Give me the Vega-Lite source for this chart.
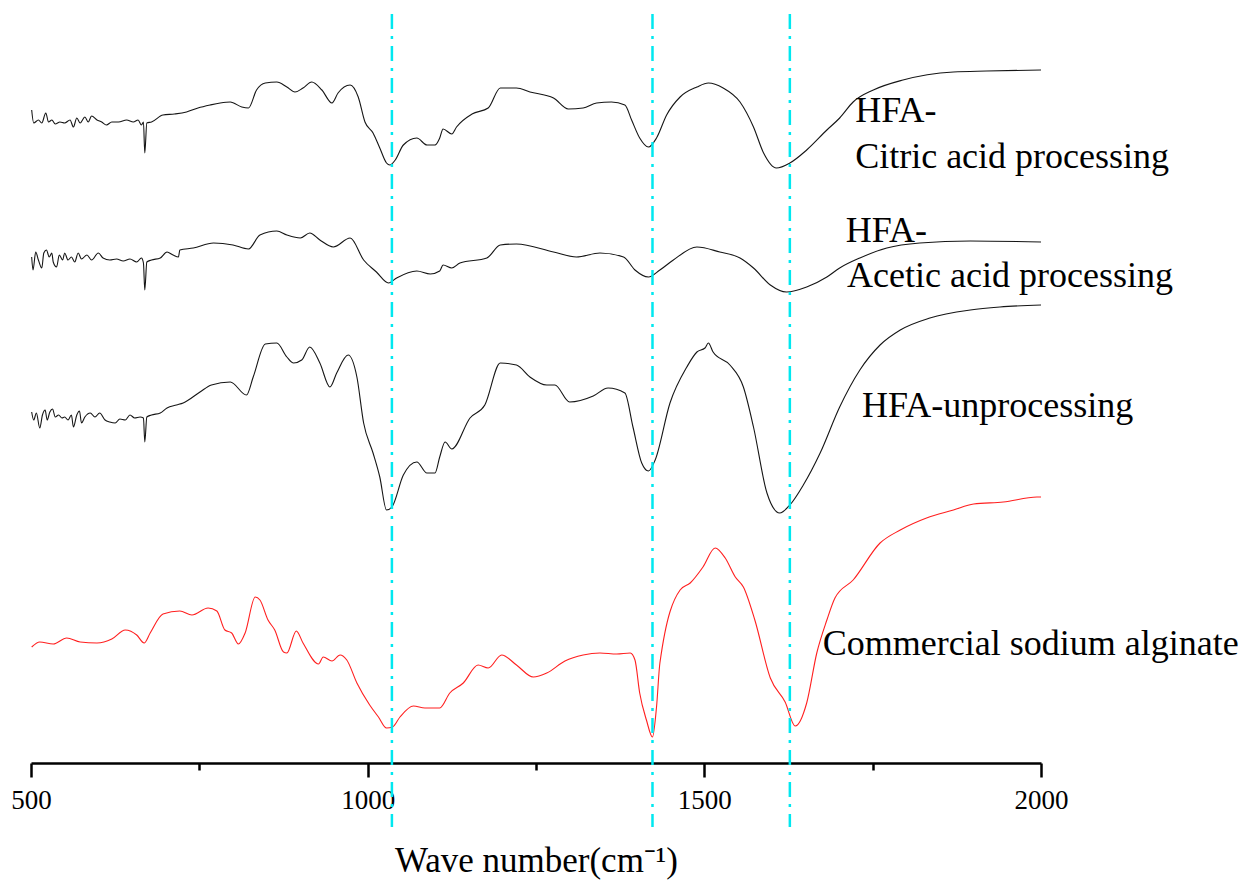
{
  "$schema": "https://vega.github.io/schema/vega-lite/v6.json",
  "width": 1010,
  "height": 763,
  "autosize": {"type": "none"},
  "padding": {"left": 31, "top": 0, "right": 219, "bottom": 124},
  "background": "white",
  "config": {"view": {"stroke": null}},
  "datasets": {
    "spectra": [
      {"sample": "HFA-Citric acid processing", "wn": 501, "t": 653}, {"sample": "HFA-Citric acid processing", "wn": 504, "t": 640}, {"sample": "HFA-Citric acid processing", "wn": 511, "t": 643}, {"sample": "HFA-Citric acid processing", "wn": 516, "t": 640}, {"sample": "HFA-Citric acid processing", "wn": 522, "t": 650}, {"sample": "HFA-Citric acid processing", "wn": 526, "t": 641}, {"sample": "HFA-Citric acid processing", "wn": 531, "t": 643}, {"sample": "HFA-Citric acid processing", "wn": 536, "t": 639}, {"sample": "HFA-Citric acid processing", "wn": 543, "t": 641}, {"sample": "HFA-Citric acid processing", "wn": 550, "t": 640}, {"sample": "HFA-Citric acid processing", "wn": 558, "t": 643}, {"sample": "HFA-Citric acid processing", "wn": 563, "t": 636}, {"sample": "HFA-Citric acid processing", "wn": 568, "t": 645}, {"sample": "HFA-Citric acid processing", "wn": 573, "t": 640}, {"sample": "HFA-Citric acid processing", "wn": 580, "t": 646}, {"sample": "HFA-Citric acid processing", "wn": 585, "t": 641}, {"sample": "HFA-Citric acid processing", "wn": 590, "t": 647}, {"sample": "HFA-Citric acid processing", "wn": 598, "t": 643}, {"sample": "HFA-Citric acid processing", "wn": 605, "t": 641}, {"sample": "HFA-Citric acid processing", "wn": 612, "t": 638}, {"sample": "HFA-Citric acid processing", "wn": 620, "t": 641}, {"sample": "HFA-Citric acid processing", "wn": 630, "t": 641}, {"sample": "HFA-Citric acid processing", "wn": 642, "t": 643}, {"sample": "HFA-Citric acid processing", "wn": 652, "t": 641}, {"sample": "HFA-Citric acid processing", "wn": 659, "t": 643}, {"sample": "HFA-Citric acid processing", "wn": 664, "t": 638}, {"sample": "HFA-Citric acid processing", "wn": 667, "t": 641}, {"sample": "HFA-Citric acid processing", "wn": 669, "t": 610}, {"sample": "HFA-Citric acid processing", "wn": 672, "t": 640}, {"sample": "HFA-Citric acid processing", "wn": 679, "t": 641}, {"sample": "HFA-Citric acid processing", "wn": 696, "t": 648}, {"sample": "HFA-Citric acid processing", "wn": 713, "t": 649}, {"sample": "HFA-Citric acid processing", "wn": 731, "t": 651}, {"sample": "HFA-Citric acid processing", "wn": 748, "t": 655}, {"sample": "HFA-Citric acid processing", "wn": 766, "t": 658}, {"sample": "HFA-Citric acid processing", "wn": 781, "t": 660}, {"sample": "HFA-Citric acid processing", "wn": 796, "t": 661}, {"sample": "HFA-Citric acid processing", "wn": 813, "t": 656}, {"sample": "HFA-Citric acid processing", "wn": 823, "t": 655}, {"sample": "HFA-Citric acid processing", "wn": 835, "t": 673}, {"sample": "HFA-Citric acid processing", "wn": 848, "t": 680}, {"sample": "HFA-Citric acid processing", "wn": 865, "t": 681}, {"sample": "HFA-Citric acid processing", "wn": 880, "t": 676}, {"sample": "HFA-Citric acid processing", "wn": 892, "t": 671}, {"sample": "HFA-Citric acid processing", "wn": 904, "t": 675}, {"sample": "HFA-Citric acid processing", "wn": 917, "t": 681}, {"sample": "HFA-Citric acid processing", "wn": 932, "t": 673}, {"sample": "HFA-Citric acid processing", "wn": 947, "t": 660}, {"sample": "HFA-Citric acid processing", "wn": 956, "t": 670}, {"sample": "HFA-Citric acid processing", "wn": 974, "t": 678}, {"sample": "HFA-Citric acid processing", "wn": 986, "t": 666}, {"sample": "HFA-Citric acid processing", "wn": 996, "t": 641}, {"sample": "HFA-Citric acid processing", "wn": 1008, "t": 630}, {"sample": "HFA-Citric acid processing", "wn": 1018, "t": 615}, {"sample": "HFA-Citric acid processing", "wn": 1028, "t": 600}, {"sample": "HFA-Citric acid processing", "wn": 1033, "t": 598}, {"sample": "HFA-Citric acid processing", "wn": 1041, "t": 603}, {"sample": "HFA-Citric acid processing", "wn": 1053, "t": 618}, {"sample": "HFA-Citric acid processing", "wn": 1073, "t": 625}, {"sample": "HFA-Citric acid processing", "wn": 1088, "t": 618}, {"sample": "HFA-Citric acid processing", "wn": 1100, "t": 618}, {"sample": "HFA-Citric acid processing", "wn": 1107, "t": 625}, {"sample": "HFA-Citric acid processing", "wn": 1112, "t": 634}, {"sample": "HFA-Citric acid processing", "wn": 1125, "t": 629}, {"sample": "HFA-Citric acid processing", "wn": 1132, "t": 636}, {"sample": "HFA-Citric acid processing", "wn": 1155, "t": 649}, {"sample": "HFA-Citric acid processing", "wn": 1179, "t": 655}, {"sample": "HFA-Citric acid processing", "wn": 1197, "t": 675}, {"sample": "HFA-Citric acid processing", "wn": 1221, "t": 675}, {"sample": "HFA-Citric acid processing", "wn": 1241, "t": 671}, {"sample": "HFA-Citric acid processing", "wn": 1276, "t": 665}, {"sample": "HFA-Citric acid processing", "wn": 1298, "t": 654}, {"sample": "HFA-Citric acid processing", "wn": 1320, "t": 655}, {"sample": "HFA-Citric acid processing", "wn": 1340, "t": 660}, {"sample": "HFA-Citric acid processing", "wn": 1362, "t": 661}, {"sample": "HFA-Citric acid processing", "wn": 1382, "t": 658}, {"sample": "HFA-Citric acid processing", "wn": 1392, "t": 643}, {"sample": "HFA-Citric acid processing", "wn": 1404, "t": 625}, {"sample": "HFA-Citric acid processing", "wn": 1417, "t": 616}, {"sample": "HFA-Citric acid processing", "wn": 1429, "t": 625}, {"sample": "HFA-Citric acid processing", "wn": 1444, "t": 648}, {"sample": "HFA-Citric acid processing", "wn": 1464, "t": 666}, {"sample": "HFA-Citric acid processing", "wn": 1489, "t": 676}, {"sample": "HFA-Citric acid processing", "wn": 1506, "t": 680}, {"sample": "HFA-Citric acid processing", "wn": 1528, "t": 675}, {"sample": "HFA-Citric acid processing", "wn": 1553, "t": 661}, {"sample": "HFA-Citric acid processing", "wn": 1573, "t": 636}, {"sample": "HFA-Citric acid processing", "wn": 1588, "t": 610}, {"sample": "HFA-Citric acid processing", "wn": 1607, "t": 595}, {"sample": "HFA-Citric acid processing", "wn": 1627, "t": 600}, {"sample": "HFA-Citric acid processing", "wn": 1652, "t": 613}, {"sample": "HFA-Citric acid processing", "wn": 1682, "t": 633}, {"sample": "HFA-Citric acid processing", "wn": 1701, "t": 645}, {"sample": "HFA-Citric acid processing", "wn": 1721, "t": 661}, {"sample": "HFA-Citric acid processing", "wn": 1751, "t": 673}, {"sample": "HFA-Citric acid processing", "wn": 1795, "t": 683}, {"sample": "HFA-Citric acid processing", "wn": 1870, "t": 691}, {"sample": "HFA-Citric acid processing", "wn": 1919, "t": 692}, {"sample": "HFA-Citric acid processing", "wn": 2000, "t": 693},

      {"sample": "HFA-Acetic acid processing", "wn": 501, "t": 506}, {"sample": "HFA-Acetic acid processing", "wn": 503, "t": 493}, {"sample": "HFA-Acetic acid processing", "wn": 507, "t": 511}, {"sample": "HFA-Acetic acid processing", "wn": 511, "t": 503}, {"sample": "HFA-Acetic acid processing", "wn": 516, "t": 495}, {"sample": "HFA-Acetic acid processing", "wn": 519, "t": 510}, {"sample": "HFA-Acetic acid processing", "wn": 523, "t": 513}, {"sample": "HFA-Acetic acid processing", "wn": 527, "t": 506}, {"sample": "HFA-Acetic acid processing", "wn": 531, "t": 510}, {"sample": "HFA-Acetic acid processing", "wn": 533, "t": 501}, {"sample": "HFA-Acetic acid processing", "wn": 538, "t": 496}, {"sample": "HFA-Acetic acid processing", "wn": 542, "t": 508}, {"sample": "HFA-Acetic acid processing", "wn": 547, "t": 503}, {"sample": "HFA-Acetic acid processing", "wn": 550, "t": 510}, {"sample": "HFA-Acetic acid processing", "wn": 555, "t": 503}, {"sample": "HFA-Acetic acid processing", "wn": 560, "t": 506}, {"sample": "HFA-Acetic acid processing", "wn": 565, "t": 501}, {"sample": "HFA-Acetic acid processing", "wn": 570, "t": 510}, {"sample": "HFA-Acetic acid processing", "wn": 575, "t": 504}, {"sample": "HFA-Acetic acid processing", "wn": 583, "t": 508}, {"sample": "HFA-Acetic acid processing", "wn": 590, "t": 503}, {"sample": "HFA-Acetic acid processing", "wn": 600, "t": 510}, {"sample": "HFA-Acetic acid processing", "wn": 607, "t": 505}, {"sample": "HFA-Acetic acid processing", "wn": 617, "t": 503}, {"sample": "HFA-Acetic acid processing", "wn": 627, "t": 504}, {"sample": "HFA-Acetic acid processing", "wn": 637, "t": 502}, {"sample": "HFA-Acetic acid processing", "wn": 647, "t": 504}, {"sample": "HFA-Acetic acid processing", "wn": 657, "t": 501}, {"sample": "HFA-Acetic acid processing", "wn": 664, "t": 505}, {"sample": "HFA-Acetic acid processing", "wn": 667, "t": 500}, {"sample": "HFA-Acetic acid processing", "wn": 669, "t": 473}, {"sample": "HFA-Acetic acid processing", "wn": 672, "t": 501}, {"sample": "HFA-Acetic acid processing", "wn": 679, "t": 503}, {"sample": "HFA-Acetic acid processing", "wn": 692, "t": 505}, {"sample": "HFA-Acetic acid processing", "wn": 702, "t": 511}, {"sample": "HFA-Acetic acid processing", "wn": 711, "t": 508}, {"sample": "HFA-Acetic acid processing", "wn": 719, "t": 506}, {"sample": "HFA-Acetic acid processing", "wn": 721, "t": 513}, {"sample": "HFA-Acetic acid processing", "wn": 741, "t": 515}, {"sample": "HFA-Acetic acid processing", "wn": 771, "t": 520}, {"sample": "HFA-Acetic acid processing", "wn": 800, "t": 518}, {"sample": "HFA-Acetic acid processing", "wn": 823, "t": 514}, {"sample": "HFA-Acetic acid processing", "wn": 840, "t": 528}, {"sample": "HFA-Acetic acid processing", "wn": 865, "t": 532}, {"sample": "HFA-Acetic acid processing", "wn": 880, "t": 528}, {"sample": "HFA-Acetic acid processing", "wn": 900, "t": 525}, {"sample": "HFA-Acetic acid processing", "wn": 914, "t": 530}, {"sample": "HFA-Acetic acid processing", "wn": 929, "t": 523}, {"sample": "HFA-Acetic acid processing", "wn": 949, "t": 516}, {"sample": "HFA-Acetic acid processing", "wn": 974, "t": 525}, {"sample": "HFA-Acetic acid processing", "wn": 994, "t": 503}, {"sample": "HFA-Acetic acid processing", "wn": 1013, "t": 491}, {"sample": "HFA-Acetic acid processing", "wn": 1031, "t": 480}, {"sample": "HFA-Acetic acid processing", "wn": 1043, "t": 485}, {"sample": "HFA-Acetic acid processing", "wn": 1073, "t": 492}, {"sample": "HFA-Acetic acid processing", "wn": 1093, "t": 489}, {"sample": "HFA-Acetic acid processing", "wn": 1107, "t": 492}, {"sample": "HFA-Acetic acid processing", "wn": 1112, "t": 498}, {"sample": "HFA-Acetic acid processing", "wn": 1125, "t": 495}, {"sample": "HFA-Acetic acid processing", "wn": 1137, "t": 500}, {"sample": "HFA-Acetic acid processing", "wn": 1177, "t": 505}, {"sample": "HFA-Acetic acid processing", "wn": 1197, "t": 518}, {"sample": "HFA-Acetic acid processing", "wn": 1221, "t": 519}, {"sample": "HFA-Acetic acid processing", "wn": 1276, "t": 511}, {"sample": "HFA-Acetic acid processing", "wn": 1310, "t": 506}, {"sample": "HFA-Acetic acid processing", "wn": 1345, "t": 510}, {"sample": "HFA-Acetic acid processing", "wn": 1380, "t": 506}, {"sample": "HFA-Acetic acid processing", "wn": 1397, "t": 493}, {"sample": "HFA-Acetic acid processing", "wn": 1417, "t": 486}, {"sample": "HFA-Acetic acid processing", "wn": 1434, "t": 493}, {"sample": "HFA-Acetic acid processing", "wn": 1454, "t": 503}, {"sample": "HFA-Acetic acid processing", "wn": 1489, "t": 516}, {"sample": "HFA-Acetic acid processing", "wn": 1523, "t": 511}, {"sample": "HFA-Acetic acid processing", "wn": 1553, "t": 505}, {"sample": "HFA-Acetic acid processing", "wn": 1573, "t": 495}, {"sample": "HFA-Acetic acid processing", "wn": 1598, "t": 478}, {"sample": "HFA-Acetic acid processing", "wn": 1622, "t": 471}, {"sample": "HFA-Acetic acid processing", "wn": 1652, "t": 476}, {"sample": "HFA-Acetic acid processing", "wn": 1682, "t": 486}, {"sample": "HFA-Acetic acid processing", "wn": 1701, "t": 495}, {"sample": "HFA-Acetic acid processing", "wn": 1731, "t": 505}, {"sample": "HFA-Acetic acid processing", "wn": 1771, "t": 515}, {"sample": "HFA-Acetic acid processing", "wn": 1820, "t": 520}, {"sample": "HFA-Acetic acid processing", "wn": 1895, "t": 522}, {"sample": "HFA-Acetic acid processing", "wn": 2000, "t": 521},

      {"sample": "HFA-unprocessing", "wn": 501, "t": 351}, {"sample": "HFA-unprocessing", "wn": 504, "t": 343}, {"sample": "HFA-unprocessing", "wn": 508, "t": 350}, {"sample": "HFA-unprocessing", "wn": 513, "t": 335}, {"sample": "HFA-unprocessing", "wn": 517, "t": 348}, {"sample": "HFA-unprocessing", "wn": 521, "t": 353}, {"sample": "HFA-unprocessing", "wn": 524, "t": 343}, {"sample": "HFA-unprocessing", "wn": 528, "t": 351}, {"sample": "HFA-unprocessing", "wn": 532, "t": 354}, {"sample": "HFA-unprocessing", "wn": 536, "t": 346}, {"sample": "HFA-unprocessing", "wn": 541, "t": 348}, {"sample": "HFA-unprocessing", "wn": 546, "t": 345}, {"sample": "HFA-unprocessing", "wn": 550, "t": 346}, {"sample": "HFA-unprocessing", "wn": 555, "t": 343}, {"sample": "HFA-unprocessing", "wn": 560, "t": 348}, {"sample": "HFA-unprocessing", "wn": 563, "t": 336}, {"sample": "HFA-unprocessing", "wn": 568, "t": 348}, {"sample": "HFA-unprocessing", "wn": 572, "t": 352}, {"sample": "HFA-unprocessing", "wn": 575, "t": 340}, {"sample": "HFA-unprocessing", "wn": 580, "t": 346}, {"sample": "HFA-unprocessing", "wn": 588, "t": 350}, {"sample": "HFA-unprocessing", "wn": 595, "t": 346}, {"sample": "HFA-unprocessing", "wn": 602, "t": 350}, {"sample": "HFA-unprocessing", "wn": 610, "t": 343}, {"sample": "HFA-unprocessing", "wn": 617, "t": 341}, {"sample": "HFA-unprocessing", "wn": 625, "t": 340}, {"sample": "HFA-unprocessing", "wn": 632, "t": 344}, {"sample": "HFA-unprocessing", "wn": 640, "t": 343}, {"sample": "HFA-unprocessing", "wn": 647, "t": 348}, {"sample": "HFA-unprocessing", "wn": 654, "t": 345}, {"sample": "HFA-unprocessing", "wn": 662, "t": 346}, {"sample": "HFA-unprocessing", "wn": 667, "t": 345}, {"sample": "HFA-unprocessing", "wn": 669, "t": 321}, {"sample": "HFA-unprocessing", "wn": 672, "t": 346}, {"sample": "HFA-unprocessing", "wn": 679, "t": 348}, {"sample": "HFA-unprocessing", "wn": 692, "t": 350}, {"sample": "HFA-unprocessing", "wn": 702, "t": 355}, {"sample": "HFA-unprocessing", "wn": 716, "t": 358}, {"sample": "HFA-unprocessing", "wn": 726, "t": 360}, {"sample": "HFA-unprocessing", "wn": 751, "t": 371}, {"sample": "HFA-unprocessing", "wn": 768, "t": 378}, {"sample": "HFA-unprocessing", "wn": 796, "t": 381}, {"sample": "HFA-unprocessing", "wn": 820, "t": 368}, {"sample": "HFA-unprocessing", "wn": 830, "t": 386}, {"sample": "HFA-unprocessing", "wn": 848, "t": 419}, {"sample": "HFA-unprocessing", "wn": 865, "t": 420}, {"sample": "HFA-unprocessing", "wn": 880, "t": 406}, {"sample": "HFA-unprocessing", "wn": 890, "t": 400}, {"sample": "HFA-unprocessing", "wn": 902, "t": 403}, {"sample": "HFA-unprocessing", "wn": 914, "t": 416}, {"sample": "HFA-unprocessing", "wn": 929, "t": 400}, {"sample": "HFA-unprocessing", "wn": 944, "t": 376}, {"sample": "HFA-unprocessing", "wn": 954, "t": 390}, {"sample": "HFA-unprocessing", "wn": 971, "t": 408}, {"sample": "HFA-unprocessing", "wn": 984, "t": 386}, {"sample": "HFA-unprocessing", "wn": 994, "t": 340}, {"sample": "HFA-unprocessing", "wn": 1008, "t": 310}, {"sample": "HFA-unprocessing", "wn": 1018, "t": 286}, {"sample": "HFA-unprocessing", "wn": 1028, "t": 253}, {"sample": "HFA-unprocessing", "wn": 1036, "t": 256}, {"sample": "HFA-unprocessing", "wn": 1053, "t": 288}, {"sample": "HFA-unprocessing", "wn": 1073, "t": 301}, {"sample": "HFA-unprocessing", "wn": 1088, "t": 290}, {"sample": "HFA-unprocessing", "wn": 1100, "t": 290}, {"sample": "HFA-unprocessing", "wn": 1107, "t": 306}, {"sample": "HFA-unprocessing", "wn": 1115, "t": 321}, {"sample": "HFA-unprocessing", "wn": 1125, "t": 314}, {"sample": "HFA-unprocessing", "wn": 1152, "t": 345}, {"sample": "HFA-unprocessing", "wn": 1174, "t": 358}, {"sample": "HFA-unprocessing", "wn": 1197, "t": 400}, {"sample": "HFA-unprocessing", "wn": 1221, "t": 398}, {"sample": "HFA-unprocessing", "wn": 1241, "t": 386}, {"sample": "HFA-unprocessing", "wn": 1266, "t": 378}, {"sample": "HFA-unprocessing", "wn": 1278, "t": 378}, {"sample": "HFA-unprocessing", "wn": 1300, "t": 361}, {"sample": "HFA-unprocessing", "wn": 1335, "t": 367}, {"sample": "HFA-unprocessing", "wn": 1357, "t": 375}, {"sample": "HFA-unprocessing", "wn": 1382, "t": 370}, {"sample": "HFA-unprocessing", "wn": 1394, "t": 336}, {"sample": "HFA-unprocessing", "wn": 1407, "t": 300}, {"sample": "HFA-unprocessing", "wn": 1417, "t": 292}, {"sample": "HFA-unprocessing", "wn": 1427, "t": 303}, {"sample": "HFA-unprocessing", "wn": 1449, "t": 360}, {"sample": "HFA-unprocessing", "wn": 1474, "t": 396}, {"sample": "HFA-unprocessing", "wn": 1489, "t": 411}, {"sample": "HFA-unprocessing", "wn": 1501, "t": 415}, {"sample": "HFA-unprocessing", "wn": 1506, "t": 420}, {"sample": "HFA-unprocessing", "wn": 1513, "t": 411}, {"sample": "HFA-unprocessing", "wn": 1538, "t": 398}, {"sample": "HFA-unprocessing", "wn": 1558, "t": 376}, {"sample": "HFA-unprocessing", "wn": 1573, "t": 336}, {"sample": "HFA-unprocessing", "wn": 1593, "t": 270}, {"sample": "HFA-unprocessing", "wn": 1612, "t": 250}, {"sample": "HFA-unprocessing", "wn": 1627, "t": 258}, {"sample": "HFA-unprocessing", "wn": 1647, "t": 278}, {"sample": "HFA-unprocessing", "wn": 1672, "t": 310}, {"sample": "HFA-unprocessing", "wn": 1701, "t": 356}, {"sample": "HFA-unprocessing", "wn": 1731, "t": 393}, {"sample": "HFA-unprocessing", "wn": 1761, "t": 418}, {"sample": "HFA-unprocessing", "wn": 1791, "t": 433}, {"sample": "HFA-unprocessing", "wn": 1835, "t": 445}, {"sample": "HFA-unprocessing", "wn": 1895, "t": 453}, {"sample": "HFA-unprocessing", "wn": 1939, "t": 456}, {"sample": "HFA-unprocessing", "wn": 2000, "t": 458},

      {"sample": "Commercial sodium alginate", "wn": 501, "t": 116}, {"sample": "Commercial sodium alginate", "wn": 513, "t": 121}, {"sample": "Commercial sodium alginate", "wn": 533, "t": 119}, {"sample": "Commercial sodium alginate", "wn": 553, "t": 125}, {"sample": "Commercial sodium alginate", "wn": 573, "t": 121}, {"sample": "Commercial sodium alginate", "wn": 598, "t": 120}, {"sample": "Commercial sodium alginate", "wn": 620, "t": 124}, {"sample": "Commercial sodium alginate", "wn": 640, "t": 133}, {"sample": "Commercial sodium alginate", "wn": 657, "t": 128}, {"sample": "Commercial sodium alginate", "wn": 668, "t": 120}, {"sample": "Commercial sodium alginate", "wn": 677, "t": 130}, {"sample": "Commercial sodium alginate", "wn": 696, "t": 149}, {"sample": "Commercial sodium alginate", "wn": 721, "t": 152}, {"sample": "Commercial sodium alginate", "wn": 739, "t": 148}, {"sample": "Commercial sodium alginate", "wn": 763, "t": 155}, {"sample": "Commercial sodium alginate", "wn": 776, "t": 152}, {"sample": "Commercial sodium alginate", "wn": 788, "t": 133}, {"sample": "Commercial sodium alginate", "wn": 798, "t": 130}, {"sample": "Commercial sodium alginate", "wn": 808, "t": 119}, {"sample": "Commercial sodium alginate", "wn": 818, "t": 130}, {"sample": "Commercial sodium alginate", "wn": 833, "t": 166}, {"sample": "Commercial sodium alginate", "wn": 840, "t": 163}, {"sample": "Commercial sodium alginate", "wn": 852, "t": 143}, {"sample": "Commercial sodium alginate", "wn": 862, "t": 133}, {"sample": "Commercial sodium alginate", "wn": 875, "t": 111}, {"sample": "Commercial sodium alginate", "wn": 880, "t": 110}, {"sample": "Commercial sodium alginate", "wn": 894, "t": 132}, {"sample": "Commercial sodium alginate", "wn": 904, "t": 120}, {"sample": "Commercial sodium alginate", "wn": 927, "t": 99}, {"sample": "Commercial sodium alginate", "wn": 934, "t": 106}, {"sample": "Commercial sodium alginate", "wn": 947, "t": 102}, {"sample": "Commercial sodium alginate", "wn": 959, "t": 108}, {"sample": "Commercial sodium alginate", "wn": 969, "t": 103}, {"sample": "Commercial sodium alginate", "wn": 984, "t": 80}, {"sample": "Commercial sodium alginate", "wn": 1003, "t": 58}, {"sample": "Commercial sodium alginate", "wn": 1016, "t": 46}, {"sample": "Commercial sodium alginate", "wn": 1028, "t": 35}, {"sample": "Commercial sodium alginate", "wn": 1037, "t": 36}, {"sample": "Commercial sodium alginate", "wn": 1048, "t": 46}, {"sample": "Commercial sodium alginate", "wn": 1068, "t": 57}, {"sample": "Commercial sodium alginate", "wn": 1085, "t": 55}, {"sample": "Commercial sodium alginate", "wn": 1107, "t": 55}, {"sample": "Commercial sodium alginate", "wn": 1122, "t": 70}, {"sample": "Commercial sodium alginate", "wn": 1142, "t": 80}, {"sample": "Commercial sodium alginate", "wn": 1164, "t": 98}, {"sample": "Commercial sodium alginate", "wn": 1179, "t": 95}, {"sample": "Commercial sodium alginate", "wn": 1199, "t": 108}, {"sample": "Commercial sodium alginate", "wn": 1221, "t": 98}, {"sample": "Commercial sodium alginate", "wn": 1246, "t": 86}, {"sample": "Commercial sodium alginate", "wn": 1266, "t": 90}, {"sample": "Commercial sodium alginate", "wn": 1293, "t": 102}, {"sample": "Commercial sodium alginate", "wn": 1320, "t": 108}, {"sample": "Commercial sodium alginate", "wn": 1345, "t": 110}, {"sample": "Commercial sodium alginate", "wn": 1370, "t": 109}, {"sample": "Commercial sodium alginate", "wn": 1390, "t": 110}, {"sample": "Commercial sodium alginate", "wn": 1397, "t": 103}, {"sample": "Commercial sodium alginate", "wn": 1404, "t": 70}, {"sample": "Commercial sodium alginate", "wn": 1414, "t": 43}, {"sample": "Commercial sodium alginate", "wn": 1423, "t": 26}, {"sample": "Commercial sodium alginate", "wn": 1429, "t": 56}, {"sample": "Commercial sodium alginate", "wn": 1434, "t": 100}, {"sample": "Commercial sodium alginate", "wn": 1464, "t": 173}, {"sample": "Commercial sodium alginate", "wn": 1479, "t": 180}, {"sample": "Commercial sodium alginate", "wn": 1498, "t": 196}, {"sample": "Commercial sodium alginate", "wn": 1516, "t": 215}, {"sample": "Commercial sodium alginate", "wn": 1531, "t": 205}, {"sample": "Commercial sodium alginate", "wn": 1546, "t": 186}, {"sample": "Commercial sodium alginate", "wn": 1558, "t": 176}, {"sample": "Commercial sodium alginate", "wn": 1575, "t": 143}, {"sample": "Commercial sodium alginate", "wn": 1598, "t": 85}, {"sample": "Commercial sodium alginate", "wn": 1620, "t": 61}, {"sample": "Commercial sodium alginate", "wn": 1635, "t": 37}, {"sample": "Commercial sodium alginate", "wn": 1652, "t": 60}, {"sample": "Commercial sodium alginate", "wn": 1667, "t": 110}, {"sample": "Commercial sodium alginate", "wn": 1682, "t": 143}, {"sample": "Commercial sodium alginate", "wn": 1694, "t": 165}, {"sample": "Commercial sodium alginate", "wn": 1721, "t": 183}, {"sample": "Commercial sodium alginate", "wn": 1761, "t": 220}, {"sample": "Commercial sodium alginate", "wn": 1791, "t": 233}, {"sample": "Commercial sodium alginate", "wn": 1830, "t": 245}, {"sample": "Commercial sodium alginate", "wn": 1870, "t": 253}, {"sample": "Commercial sodium alginate", "wn": 1900, "t": 259}, {"sample": "Commercial sodium alginate", "wn": 1944, "t": 261}, {"sample": "Commercial sodium alginate", "wn": 1994, "t": 266}, {"sample": "Commercial sodium alginate", "wn": 2000, "t": 266}
    ],
    "markers": [
      {"wn": 1036, "top": 749, "bottom": -64},
      {"wn": 1423, "top": 749, "bottom": -64},
      {"wn": 1627, "top": 749, "bottom": -64}
    ],
    "labels": [
      {"text": "HFA-", "wn": 1724, "t": 641},
      {"text": "Citric acid processing", "wn": 1724, "t": 595},
      {"text": "HFA-", "wn": 1710, "t": 521},
      {"text": "Acetic acid processing", "wn": 1712, "t": 476},
      {"text": "HFA-unprocessing", "wn": 1734, "t": 346},
      {"text": "Commercial sodium alginate", "wn": 1676, "t": 108}
    ]
  },
  "layer": [
    {
      "data": {"name": "spectra"},
      "mark": {"type": "line", "strokeWidth": 1.1, "interpolate": "monotone"},
      "encoding": {
        "x": {
          "field": "wn",
          "type": "quantitative",
          "scale": {"domain": [500, 2000], "nice": false, "zero": false},
          "axis": {
            "values": [500, 750, 1000, 1250, 1500, 1750, 2000],
            "format": "d",
            "labelExpr": "datum.value % 500 === 0 ? datum.label : ''",
            "tickSize": {"condition": {"test": "datum.value % 500 === 0", "value": 14}, "value": 7},
            "tickColor": "black",
            "tickWidth": 2.5,
            "domainColor": "black",
            "domainWidth": 2.5,
            "grid": false,
            "labelFont": "Liberation Serif",
            "labelFontSize": 27,
            "labelColor": "black",
            "labelPadding": 10,
            "labelFlush": false,
            "labelOverlap": false,
            "title": "Wave number(cm⁻¹)",
            "titleFont": "Liberation Serif",
            "titleFontSize": 35,
            "titleFontWeight": "normal",
            "titleColor": "black",
            "titlePadding": 30
          }
        },
        "y": {
          "field": "t",
          "type": "quantitative",
          "scale": {"domain": [0, 763], "nice": false, "zero": false},
          "axis": null
        },
        "color": {
          "field": "sample",
          "type": "nominal",
          "scale": {
            "domain": ["HFA-Citric acid processing", "HFA-Acetic acid processing", "HFA-unprocessing", "Commercial sodium alginate"],
            "range": ["#151515", "#151515", "#151515", "#ff1f1f"]
          },
          "legend": null
        }
      }
    },
    {
      "data": {"name": "markers"},
      "mark": {"type": "rule", "color": "#00E8F0", "strokeWidth": 2.5, "strokeDash": [15, 7, 3, 7], "clip": false},
      "encoding": {
        "x": {"field": "wn", "type": "quantitative"},
        "y": {"field": "top", "type": "quantitative"},
        "y2": {"field": "bottom"}
      }
    },
    {
      "data": {"name": "labels"},
      "mark": {"type": "text", "font": "Liberation Serif", "fontSize": 36, "align": "left", "baseline": "alphabetic", "color": "black"},
      "encoding": {
        "x": {"field": "wn", "type": "quantitative"},
        "y": {"field": "t", "type": "quantitative"},
        "text": {"field": "text"}
      }
    }
  ]
}
